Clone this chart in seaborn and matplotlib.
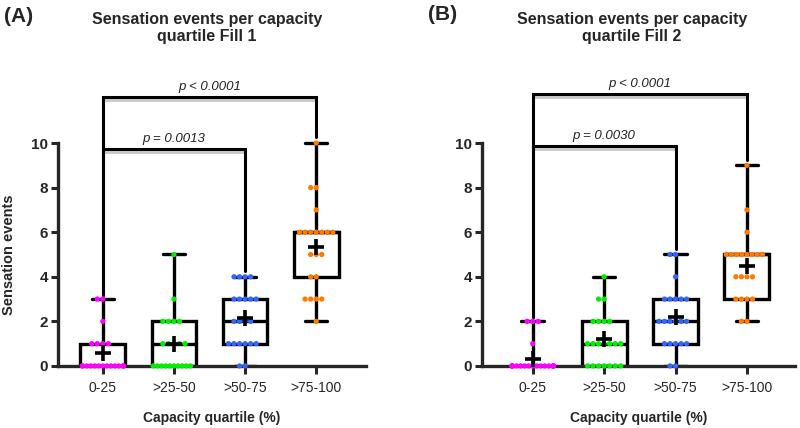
import numpy as np
import pandas as pd
import matplotlib
matplotlib.use("Agg")
from matplotlib import pyplot as plt
import seaborn as sns

quartiles = ['0-25', '>25-50', '>50-75', '>75-100']
dot_colors = ['#FF00FF', '#00EE00', '#3366FF', '#FF7A00']

# Fill 1 (panel A) - sensation events per subject
fill1_q1 = [0, 0, 0, 0, 0, 0, 0, 0, 0, 0, 0, 0, 0, 0, 1, 1, 1, 1, 2, 3, 3]
fill1_q2 = [0, 0, 0, 0, 0, 0, 0, 0, 0, 0, 1, 1, 1, 1, 1, 2, 2, 2, 2, 3, 5]
fill1_q3 = [0, 0, 1, 1, 1, 1, 1, 1, 2, 2, 2, 2, 3, 3, 3, 3, 3, 4, 4, 4, 4]
fill1_q4 = [2, 3, 3, 3, 3, 4, 4, 5, 5, 5, 6, 6, 6, 6, 6, 6, 6, 7, 8, 8, 10]

# Fill 2 (panel B)
fill2_q1 = [0, 0, 0, 0, 0, 0, 0, 0, 0, 0, 0, 0, 0, 0, 0, 0, 0, 1, 2, 2, 2]
fill2_q2 = [0, 0, 0, 0, 0, 0, 0, 1, 1, 1, 1, 1, 1, 1, 2, 2, 2, 2, 3, 3, 4]
fill2_q3 = [0, 0, 1, 1, 1, 1, 1, 2, 2, 2, 2, 2, 2, 3, 3, 3, 3, 3, 4, 5, 5]
fill2_q4 = [2, 2, 3, 3, 3, 3, 4, 4, 4, 4, 5, 5, 5, 5, 5, 5, 5, 5, 6, 7, 9]

# significance brackets: (group a, group b, height, label)
brackets_fill1 = [(0, 3, 12.05, 'p < 0.0001'), (0, 2, 9.75, 'p = 0.0013')]
brackets_fill2 = [(0, 3, 12.2, 'p < 0.0001'), (0, 2, 9.87, 'p = 0.0030')]


def make_df(groups):
    rows = []
    for q, vals in zip(quartiles, groups):
        for v in vals:
            rows.append({'quartile': q, 'events': v})
    return pd.DataFrame(rows)


sns.set_style("ticks")
plt.rcParams['font.family'] = ['Liberation Sans', 'DejaVu Sans']

fig = plt.figure(figsize=(8, 4.28), dpi=100)
axA = fig.add_axes([0.0725, 0.145, 0.385, 0.677])
axB = fig.add_axes([0.6025, 0.145, 0.391, 0.677])

panels = [
    (axA, make_df([fill1_q1, fill1_q2, fill1_q3, fill1_q4]), brackets_fill1, (-0.63, 3.70)),
    (axB, make_df([fill2_q1, fill2_q2, fill2_q3, fill2_q4]), brackets_fill2, (-0.71, 3.67)),
]

swarms = []
for ax, df, brackets, xlim in panels:
    sns.boxplot(data=df, x='quartile', y='events', order=quartiles, color='white',
                linecolor='black', linewidth=2.4, width=0.63, whis=(0, 100),
                showfliers=False, showmeans=True,
                meanprops=dict(marker='+', markersize=11, markeredgewidth=2.6,
                               markeredgecolor='black'), ax=ax)
    n_before = len(ax.collections)
    sns.swarmplot(data=df, x='quartile', y='events', order=quartiles, hue='quartile',
                  palette=dot_colors, size=3.8, linewidth=0, legend=False,
                  warn_thresh=1.0, ax=ax)
    swarms += ax.collections[n_before:]
    for ln in ax.lines:
        if ln.get_marker() == '+':
            ln.set_zorder(6)
            ln.set_clip_on(False)

    # brackets
    tops = df.groupby('quartile')['events'].max()
    for a, b, h, label in brackets:
        la = tops[quartiles[a]] + 0.2
        lb = tops[quartiles[b]] + 0.25
        ax.plot([a, b], [h - 0.14, h - 0.14], color='#c8c8c8', lw=2, clip_on=False, zorder=2)
        ax.plot([a, a, b, b], [la, h, h, lb], color='black', lw=2.2, clip_on=False,
                zorder=3, solid_joinstyle='miter')
        ax.text((a + b) / 2, h + 0.18, label, ha='center', va='bottom', fontsize=9.5,
                style='italic', color='#222222')

    ax.set_xlim(*xlim)
    ax.set_ylim(0, 13)
    ax.set_yticks([0, 2, 4, 6, 8, 10])
    sns.despine(ax=ax)
    ax.spines['left'].set_bounds(0, 10)
    ax.spines['left'].set_linewidth(2.4)
    ax.spines['bottom'].set_linewidth(2.4)
    ax.tick_params(axis='y', length=5, width=2.2, labelsize=11, pad=2)
    ax.tick_params(axis='x', length=6, width=2.2, labelsize=10, pad=5)
    for t in ax.get_yticklabels():
        t.set_fontweight('bold')
    ax.set_xlabel('Capacity quartile (%)', fontsize=10, fontweight='bold')
    ax.xaxis.set_label_coords(0.5, -0.155)
    ax.set_ylabel('')

axA.set_ylabel('Sensation events', fontsize=10.5, fontweight='bold')
axA.yaxis.set_label_coords(-0.135, 0.385)

fig.text(207 / 800, 1 - 28 / 428, 'Sensation events per capacity\nquartile Fill 1',
         ha='center', va='center', fontsize=11.5, fontweight='bold', linespacing=1.15)
fig.text(632 / 800, 1 - 28 / 428, 'Sensation events per capacity\nquartile Fill 2',
         ha='center', va='center', fontsize=11.5, fontweight='bold', linespacing=1.15)
fig.text(0.005, 1 - 17 / 428, '(A)', ha='left', va='center', fontsize=15, fontweight='bold')
fig.text(428 / 800, 1 - 15 / 428, '(B)', ha='left', va='center', fontsize=15, fontweight='bold')

# let seaborn lay out the swarms once, then squeeze only the rows that are
# wider than the box so they stay inside it like in the original figure
half_box = 0.29
fig.canvas.draw()
for c in swarms:
    off = np.array(c.get_offsets())
    if 'draw' in c.__dict__:
        del c.__dict__['draw']
    if len(off):
        centre = np.round(np.median(off[:, 0]))
        for yv in np.unique(off[:, 1]):
            row = off[:, 1] == yv
            span = np.abs(off[row, 0] - centre).max()
            if span > half_box:
                off[row, 0] = centre + (off[row, 0] - centre) * half_box / span
        c.set_offsets(off)
    c.set_zorder(4)
    c.set_clip_on(False)

fig.savefig('out.png', dpi=100)
